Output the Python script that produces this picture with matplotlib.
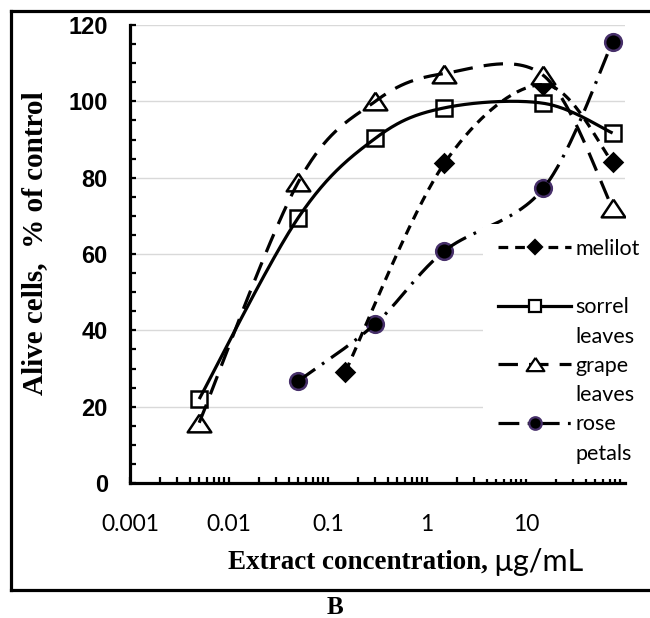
import numpy as np
import matplotlib
matplotlib.use("Agg")
import matplotlib.pyplot as plt
import matplotlib.ticker as ticker
from matplotlib.lines import Line2D

# data (x in ug/mL, y in % of control)
conc_all = [0.005, 0.05, 0.3, 1.5, 15, 75]
sorrel = [22, 69.5, 90.3, 98.3, 99.5, 91.7]
grape = [15.8, 78.8, 100.0, 107.3, 106.8, 72.0]
conc_melilot = [0.15, 1.5, 15, 75]
melilot = [29.2, 83.8, 104.4, 84.0]
conc_rose = [0.05, 0.3, 1.5, 15, 75]
rose = [26.7, 41.7, 60.8, 77.2, 115.6]

xtick_vals = [0.001, 0.01, 0.1, 1, 10]
xtick_labels = ['0.001', '0.01', '0.1', '1', '10']
ytick_vals = [0, 20, 40, 60, 80, 100, 120]

plt.rcParams['lines.scale_dashes'] = False


def smooth(xs, ys, n=60):
    # excel-like smoothed line (bezier through points, in log-x space)
    P = np.column_stack([np.log10(xs), ys])
    Pe = np.vstack([P[0], P, P[-1]])
    t = np.linspace(0, 1, n)[:, None]
    parts = []
    for i in range(len(P) - 1):
        p0, p1, p2, p3 = Pe[i], Pe[i + 1], Pe[i + 2], Pe[i + 3]
        c1 = p1 + (p2 - p0) / 6
        c2 = p2 - (p3 - p1) / 6
        seg = (1 - t)**3 * p1 + 3 * (1 - t)**2 * t * c1 + 3 * (1 - t) * t**2 * c2 + t**3 * p2
        parts.append(seg if i == 0 else seg[1:])
    seg = np.vstack(parts)
    return 10**seg[:, 0], seg[:, 1]


fig = plt.figure(figsize=(6.5, 6.18), dpi=100)
ax = fig.add_axes([0.2, 0.2184, 0.7615, 0.7411])

lw = 2.3
tri = [(0, 0.75), (-1, -0.75), (1, -0.75), (0, 0.75)]
rose_edge = '#47306a'

styles = {
    'melilot': dict(dashes=(7, 5), marker='D', ms=9, mfc='k', mec='k'),
    'sorrel': dict(dashes=None, marker='s', ms=12, mfc='white', mec='k'),
    'grape': dict(dashes=(14, 8), marker=tri, ms=17, mfc='white', mec='k'),
    'rose': dict(dashes=(15, 6, 2, 6), marker='o', ms=12, mfc='k', mec=rose_edge),
}
series = [
    ('melilot', conc_melilot, melilot),
    ('sorrel', conc_all, sorrel),
    ('grape', conc_all, grape),
    ('rose', conc_rose, rose),
]

for name, xs, ys in series:
    st = styles[name]
    sx, sy = smooth(xs, ys)
    line, = ax.plot(sx, sy, color='k', lw=lw, zorder=4, solid_capstyle='butt', dash_capstyle='butt')
    if st['dashes'] is not None:
        line.set_dashes(st['dashes'])
    ax.plot(xs, ys, linestyle='none', marker=st['marker'], ms=st['ms'],
            mfc=st['mfc'], mec=st['mec'], mew=1.8, zorder=3)

ax.set_xscale('log')
ax.set_xlim(0.001, 100)
ax.set_ylim(0, 120)
ax.xaxis.set_major_locator(ticker.FixedLocator(xtick_vals))
ax.xaxis.set_major_formatter(ticker.FixedFormatter(xtick_labels))
ax.xaxis.set_minor_locator(ticker.LogLocator(base=10, subs=np.arange(2, 10)))
ax.xaxis.set_minor_formatter(ticker.NullFormatter())
ax.set_yticks(ytick_vals)
ax.yaxis.set_minor_locator(ticker.MultipleLocator(5))

ax.grid(axis='y', which='major', color='#d9d9d9', lw=1.0, zorder=0)
ax.set_axisbelow(True)
for s in ['top', 'right']:
    ax.spines[s].set_visible(False)
for s in ['left', 'bottom']:
    ax.spines[s].set_linewidth(2.3)

ax.tick_params(axis='both', which='both', direction='in', width=1.6, length=4)
ax.tick_params(axis='y', which='major', pad=16)
ax.tick_params(axis='x', which='major', pad=22)
for lab in ax.get_yticklabels():
    lab.set_fontfamily('Liberation Sans')
    lab.set_fontweight('bold')
    lab.set_fontsize(17)
for lab in ax.get_xticklabels():
    lab.set_fontfamily('Lato')
    lab.set_fontsize(16.5)

ax.set_ylabel('Alive cells,  % of control', family='Liberation Serif', weight='bold', fontsize=21)
ax.yaxis.set_label_coords(-0.166, 0.524)

fig.text(488 / 650, 1 - 562 / 618, 'Extract concentration,', family='Liberation Serif',
         weight='bold', fontsize=19.5, ha='right', va='center')
fig.text(493 / 650, 1 - 562 / 618, 'µg/mL', family='Lato', fontsize=22, ha='left', va='center')
fig.text(335 / 650, 1 - 607 / 618, 'B', family='Liberation Serif', weight='bold', fontsize=18,
         ha='center', va='center')

# legend: one row per text line
handles = []
labels = []
legend_rows = [('melilot', 'melilot'), (None, ''), ('sorrel', 'sorrel'), (None, 'leaves'),
               ('grape', 'grape'), (None, 'leaves'), ('rose', 'rose'), (None, 'petals')]
for key, text in legend_rows:
    if key is None:
        h = Line2D([], [], linestyle='none')
    else:
        st = styles[key]
        h = Line2D([], [], color='k', lw=lw, marker=st['marker'], ms=st['ms'] * 0.75,
                   mfc=st['mfc'], mec=st['mec'], mew=1.6)
        if st['dashes'] is not None:
            h.set_dashes(st['dashes'])
    handles.append(h)
    labels.append(text)

leg = ax.legend(handles, labels, loc='upper left', bbox_to_anchor=(0.713, 0.566),
                borderaxespad=0, borderpad=0.7, handlelength=3.4, handletextpad=0.2,
                labelspacing=0.43, frameon=True, fancybox=False,
                prop={'family': 'Lato', 'size': 15.5})
leg.get_frame().set_facecolor('white')
leg.get_frame().set_edgecolor('none')
leg.get_frame().set_alpha(1)
leg.set_zorder(5)

# outer frame of the figure panel
fw = 2.3
fig.add_artist(Line2D([11 / 650, 11 / 650], [1 - 11 / 618, 1 - 590 / 618], color='k', lw=fw, transform=fig.transFigure))
fig.add_artist(Line2D([11 / 650, 1.0], [1 - 11 / 618, 1 - 11 / 618], color='k', lw=fw, transform=fig.transFigure))
fig.add_artist(Line2D([11 / 650, 1.0], [1 - 590 / 618, 1 - 590 / 618], color='k', lw=fw, transform=fig.transFigure))

fig.savefig('out.png', dpi=100)
